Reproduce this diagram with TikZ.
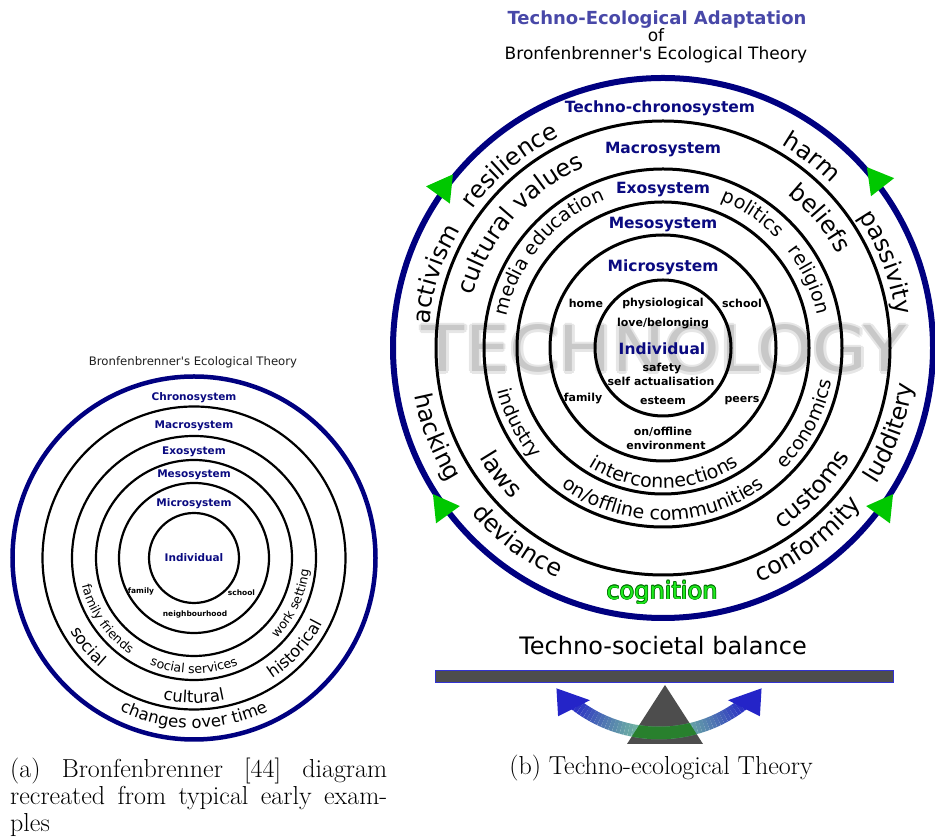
\documentclass[tikz,border=0pt]{standalone}
\usepackage{fontspec}
\usepackage{graphicx}
\newfontfamily\dv{DejaVu Sans}
\usetikzlibrary{decorations.text,calc}
\definecolor{navy}{RGB}{0,0,128}
\definecolor{lblnavy}{RGB}{10,10,128}
\definecolor{titleblue}{RGB}{72,72,168}
\definecolor{tgreen}{RGB}{0,200,0}
\definecolor{coggreen}{RGB}{30,235,30}
\definecolor{cogedge}{RGB}{0,110,0}
\definecolor{wmcore}{RGB}{200,200,200}
\definecolor{wmhalo}{RGB}{230,230,230}
\definecolor{seegray}{RGB}{77,77,77}
\definecolor{barblue}{RGB}{50,50,210}
\definecolor{arrblue}{RGB}{36,36,200}
\definecolor{arrgreen}{RGB}{125,205,155}
\definecolor{arrdark}{RGB}{40,128,45}
\definecolor{titlegray}{RGB}{30,30,30}
\newcommand\toptext[5]{%
  \pgfmathsetmacro\ttA{#3+75}\pgfmathsetmacro\ttB{#3-75}%
  \path[decorate,decoration={text along path,text align=center,
    text={|\dv\fontsize{#4}{#4}\selectfont|#5}}]
    (#1) ++(\ttA:#2) arc[start angle=\ttA,end angle=\ttB,radius=#2];}
\newcommand\bottext[5]{%
  \pgfmathsetmacro\ttA{#3-75}\pgfmathsetmacro\ttB{#3+75}%
  \path[decorate,decoration={text along path,text align=center,
    text={|\dv\fontsize{#4}{#4}\selectfont|#5}}]
    (#1) ++(\ttA:#2) arc[start angle=\ttA,end angle=\ttB,radius=#2];}
\begin{document}
\begin{tikzpicture}[x=1pt,y=1pt,
  lbl/.style={anchor=base,inner sep=0},
  ringR/.style={lbl,font=\dv\bfseries\fontsize{15.5}{15.5}\selectfont,text=lblnavy},
  ringL/.style={lbl,font=\dv\bfseries\fontsize{10.5}{10.5}\selectfont,text=lblnavy},
  smallR/.style={lbl,font=\dv\bfseries\fontsize{11}{11}\selectfont},
  smallL/.style={lbl,font=\dv\bfseries\fontsize{7.5}{7.5}\selectfont},
  wmark/.style={lbl,font=\dv},
  cogstyle/.style={lbl,font=\dv\fontsize{24}{24}\selectfont},
  ringline/.style={line width=3pt},
  ringlineL/.style={line width=2.2pt},
  tri/.style={fill=tgreen}]
\useasboundingbox (0,0) rectangle (935,840);
\coordinate (L) at (194,282);
\coordinate (R) at (663,492);

% ---------------- watermark ----------------
\foreach \dx/\dy [count=\k] in {2.5/0,-2.5/0,0/2.5,0/-2.5,1.8/1.8,-1.8/1.8,1.8/-1.8,-1.8/-1.8}
  \node[wmark,text=wmhalo] (wmh\k) at (664.5+\dx,468+\dy) {\resizebox{485pt}{47pt}{TECHNOLOGY}};
\node[wmark,text=wmcore] (wm) at (664.5,468) {\resizebox{485pt}{47pt}{TECHNOLOGY}};

% ---------------- left diagram ----------------
\node[lbl,font=\dv\fontsize{11.7}{11.7}\selectfont,text=titlegray] (ltitle) at (193,474) {Bronfenbrenner\textquotesingle s Ecological Theory};
\draw[navy,line width=4.5pt] (L) circle (181.5);
\foreach \r in {45,75,98,122,151.5}
  \draw[ringlineL] (L) circle (\r);
\node[ringL] (lchrono) at (194,439.2) {Chronosystem};
\node[ringL] (lmacro) at (194,411.2) {Macrosystem};
\node[ringL] (lexo) at (194,385.2) {Exosystem};
\node[ringL] (lmeso) at (194,362.2) {Mesosystem};
\node[ringL] (lmicro) at (194,333.2) {Microsystem};
\node[ringL] (lind) at (194,278.2) {Individual};
\node[smallL] (lfam) at (141,246.7) {family};
\node[smallL] (lsch) at (241.5,244) {school};
\node[smallL] (lnei) at (195,223.3) {neighbourhood};
\bottext{L}{115.5}{215}{12.5}{family friends}
\bottext{L}{115.5}{270}{12.5}{social services}
\bottext{L}{115.5}{335}{12.5}{work setting}
\bottext{L}{144}{220}{16.5}{social}
\bottext{L}{145}{270}{16.5}{cultural}
\bottext{L}{144}{318}{16.5}{historical}
\bottext{L}{170}{270}{16.5}{changes over time}

% ---------------- right diagram ----------------
\node[lbl,font=\dv\bfseries\fontsize{18}{18}\selectfont,text=titleblue] (rt1) at (657,815) {Techno-Ecological Adaptation};
\node[lbl,font=\dv\fontsize{17}{17}\selectfont] (rt2) at (656,798.3) {of};
\node[lbl,font=\dv\fontsize{17}{17}\selectfont] (rt3) at (656,780) {Bronfenbrenner\textquotesingle s Ecological Theory};

\draw[navy,line width=6pt] (R) circle (270);
\foreach \r in {68,113,146,179,227}
  \draw[ringline] (R) circle (\r);

\node[ringR] (rchrono) at (660,727) {Techno-chronosystem};
\node[ringR] (rmacro) at (663,686.4) {Macrosystem};
\node[ringR] (rexo) at (663,646.4) {Exosystem};
\node[ringR] (rmeso) at (663,611.4) {Mesosystem};
\node[ringR] (rmicro) at (663,568.4) {Microsystem};
\node[ringR] (rind) at (662,485.6) {Individual};

\node[smallR] (rhome) at (586,532.5) {home};
\node[smallR] (rphys) at (663,533.3) {physiological};
\node[smallR] (rsch) at (742,532.5) {school};
\node[smallR] (rlove) at (663,513) {love/belonging};
\node[smallR] (rsafe) at (662,468.3) {safety};
\node[smallR] (rself) at (661,454.3) {self actualisation};
\node[smallR] (rest) at (663,435.7) {esteem};
\node[smallR] (rfam) at (583,438.3) {family};
\node[smallR] (rpeer) at (742,437.7) {peers};
\node[smallR] (ronoff) at (663,404) {on/offline};
\node[smallR] (renv) at (666,390) {environment};

% outer ring words
\toptext{R}{235}{130}{24}{resilience}
\toptext{R}{235}{162}{24}{activism}
\toptext{R}{235}{52}{24}{harm}
\toptext{R}{235}{21}{24}{passivity}
\bottext{R}{253}{201.5}{24}{hacking}
\bottext{R}{253}{233}{24}{deviance}
\bottext{R}{253}{307}{24}{conformity}
\bottext{R}{253}{339.5}{24}{ludditery}
% macro ring words
\toptext{R}{197}{139}{24}{cultural values}
\toptext{R}{198}{39.5}{24}{beliefs}
\bottext{R}{214}{218}{24}{laws}
\bottext{R}{216}{316.5}{24}{customs}
% exo ring words
\toptext{R}{159}{140}{19}{media education}
\toptext{R}{158}{56.3}{19}{politics}
\toptext{R}{158}{25}{19}{religion}
\bottext{R}{171}{207.5}{19}{industry}
\bottext{R}{172}{332}{19}{economics}
\bottext{R}{172}{270}{19}{on/offline communities}
% meso ring
\bottext{R}{140}{270.5}{19}{interconnections}

% cognition
\foreach \dx/\dy [count=\k] in {0.7/0,-0.7/0,0/0.7,0/-0.7,0.5/0.5,-0.5/0.5,0.5/-0.5,-0.5/-0.5}
  \node[cogstyle,text=cogedge] (cogo\k) at (662+\dx,240.7+\dy) {cognition};
\node[cogstyle,text=coggreen] (cog) at (662,240.7) {cognition};

% green arrowheads on the outer circle
\foreach \ang/\tip in {144/54,38/128,216/126,324/54}
  \fill[tri] (R) ++(\ang:272) ++(\tip:17) -- ++(\tip+150:29.4) -- ++(\tip+270:29.4) -- cycle;

% ---------------- seesaw ----------------
\node[lbl,font=\dv\fontsize{24}{24}\selectfont] (bal) at (663,185) {Techno-societal balance};
\filldraw[fill=seegray,draw=barblue,line width=0.8pt] (435,158) rectangle (893,170);
\fill[seegray] (665,155) -- (703,96) -- (627,96) -- cycle;
\coordinate (SA) at (659,244);
\foreach \i in {0,...,47}{
  \pgfmathsetmacro\aa{231.6+\i*1.6}
  \pgfmathsetmacro\ab{\aa+1.6}
  \pgfmathtruncatemacro\pc{100*(abs(\aa+0.8-270)/38.4)^1.3}
  \colorlet{segc}{arrblue!\pc!arrgreen}
  \draw[line width=12.5pt,segc] (SA) ++(\aa:137) arc[start angle=\aa,end angle=\ab,radius=137];
}
\begin{scope}
  \clip (665,155) -- (703,96) -- (627,96) -- cycle;
  \draw[line width=12.5pt,arrdark] (SA) ++(231.6:137) arc[start angle=231.6,end angle=308.4,radius=137];
\end{scope}
\fill[arrblue] (SA) ++(222:138) -- ($(SA)+(230:157)$) -- ($(SA)+(236.5:125)$) -- cycle;
\fill[arrblue] (SA) ++(318:138) -- ($(SA)+(310:157)$) -- ($(SA)+(303.5:125)$) -- cycle;

% ---------------- captions ----------------
\node[anchor=base west,inner sep=0,font=\fontsize{26}{27}\selectfont] (capa) at (10,62)
  {\parbox[t]{377pt}{(a) Bronfenbrenner [44] diagram\linebreak recreated from typical early exam-\linebreak ples}};
\node[lbl,font=\fontsize{26}{27}\selectfont] (capb) at (661,65) {(b) Techno-ecological Theory};
\end{tikzpicture}
\end{document}
